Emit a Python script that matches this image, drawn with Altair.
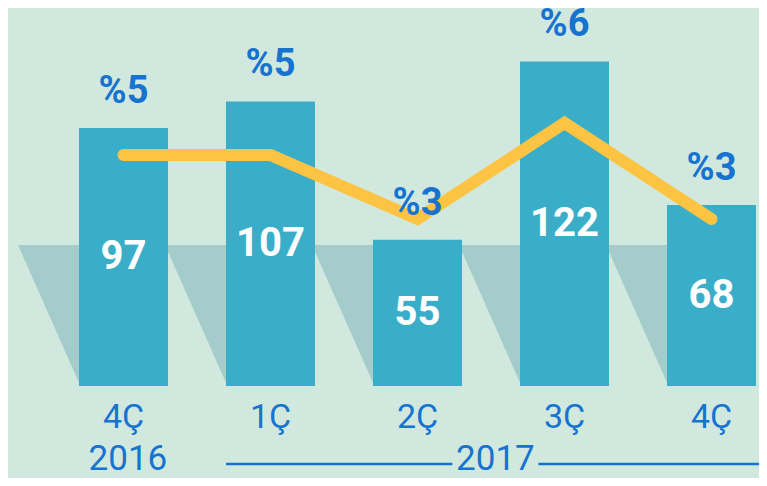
import altair as alt
import pandas as pd

# ---- data ----
quarters = ["4Ç", "1Ç", "2Ç", "3Ç", "4Ç"]
years_of_quarter = ["2016", "2017", "2017", "2017", "2017"]
values = [97, 107, 55, 122, 68]
growth_pct = [5, 5, 3, 6, 3]

# ---- styling constants ----
BG = "#d1e8df"
BAR = "#3aaec8"
SHADOW = "#a4cccb"
LINE = "#fdc443"
BLUE = "#1673cf"
FONT = "Roboto, sans-serif"

W, H = 751, 470
X0_PX, STEP_PX = 115.5, 147.0     # pixel of first category, step between categories
BAR_PX = 89
PX_PER_UNIT = 2.66                # bar scale
BASE_PX = 378                     # pixel of zero value
SHADOW_TOP_PX = 141
SHADOW_SLANT_PX = 61

xdom = [-X0_PX / STEP_PX, (W - X0_PX) / STEP_PX]
ydom = [-(H - BASE_PX) / PX_PER_UNIT, BASE_PX / PX_PER_UNIT]
LP5, LPX = 147.0, 32.0
ldom = [5 - (H - LP5) / LPX, 5 + LP5 / LPX]

xs = alt.Scale(domain=xdom, nice=False, zero=False, padding=0)
ys = alt.Scale(domain=ydom, nice=False, zero=False, padding=0)
ls = alt.Scale(domain=ldom, nice=False, zero=False, padding=0)

df = pd.DataFrame({
    "i": list(range(len(quarters))),
    "q": quarters,
    "year": years_of_quarter,
    "v": values,
    "p": growth_pct,
})
df["plabel"] = ["%" + str(p) for p in growth_pct]
df["mid"] = df["v"] / 2

# shadow triangles behind each bar
half_bar = BAR_PX / 2 / STEP_PX
slant = SHADOW_SLANT_PX / STEP_PX
stop = SHADOW_TOP_PX / PX_PER_UNIT
rows = []
for i in df["i"]:
    left = i - half_bar
    rows.append({"g": i, "x": left - slant, "y": stop, "y2": stop})
    rows.append({"g": i, "x": left + 0.01, "y": stop, "y2": 0})
shadow_df = pd.DataFrame(rows)

# year groups
yr = df.groupby("year", sort=False)["i"].agg(["min", "max"]).reset_index()
yr["mid"] = (yr["min"] + yr["max"]) / 2 + 0.03
gap = 43 / STEP_PX
seg_rows = []
for _, r in yr.iterrows():
    if r["max"] > r["min"]:
        seg_rows.append({"x": r["min"] - half_bar, "x2": r["mid"] - gap})
        seg_rows.append({"x": r["mid"] + gap, "x2": r["max"] + half_bar + 0.05})
seg_df = pd.DataFrame(seg_rows)

shadows = alt.Chart(shadow_df).mark_area(color=SHADOW, opacity=1).encode(
    x=alt.X("x:Q", scale=xs, axis=None),
    y=alt.Y("y:Q", scale=ys, axis=None),
    y2="y2:Q",
    detail="g:N",
)

bars = alt.Chart(df).mark_bar(color=BAR, size=BAR_PX).encode(
    x=alt.X("i:Q", scale=xs, axis=None),
    y=alt.Y("v:Q", scale=ys, axis=None),
    y2=alt.datum(0),
)

line = alt.Chart(df).mark_line(color=LINE, strokeWidth=12, strokeCap="round", strokeJoin="miter").encode(
    x=alt.X("i:Q", scale=xs, axis=None),
    y=alt.Y("p:Q", scale=ls, axis=None),
)

val_text = alt.Chart(df).mark_text(color="white", font=FONT, fontSize=40, fontWeight="bold",
                                   baseline="middle", align="center").encode(
    x=alt.X("i:Q", scale=xs, axis=None),
    y=alt.Y("mid:Q", scale=ys, axis=None),
    text="v:N",
)

pct_text = alt.Chart(df).mark_text(color=BLUE, font=FONT, fontSize=38, fontWeight="bold",
                                   baseline="middle", align="center", dy=-36).encode(
    x=alt.X("i:Q", scale=xs, axis=None),
    y=alt.Y("v:Q", scale=ys, axis=None),
    text="plabel:N",
)

cat_text = alt.Chart(df).mark_text(color=BLUE, font=FONT, fontSize=34,
                                   baseline="middle", align="center").encode(
    x=alt.X("i:Q", scale=xs, axis=None),
    y=alt.value(410),
    text="q:N",
)

year_text = alt.Chart(yr).mark_text(color=BLUE, font=FONT, fontSize=35,
                                    baseline="middle", align="center").encode(
    x=alt.X("mid:Q", scale=xs, axis=None),
    y=alt.value(451),
    text="year:N",
)

year_rules = alt.Chart(seg_df).mark_rule(color=BLUE, strokeWidth=2.5).encode(
    x=alt.X("x:Q", scale=xs, axis=None),
    x2="x2:Q",
    y=alt.value(456),
)

chart = alt.layer(
    shadows, bars, line, val_text, pct_text, cat_text, year_text, year_rules
).resolve_scale(y="independent").properties(
    width=W, height=H, background=BG, padding=0,
    autosize=alt.AutoSizeParams(type="none"),
).configure_view(stroke=None)

chart.save("out.html", embed_options={"renderer": "svg", "actions": False})
